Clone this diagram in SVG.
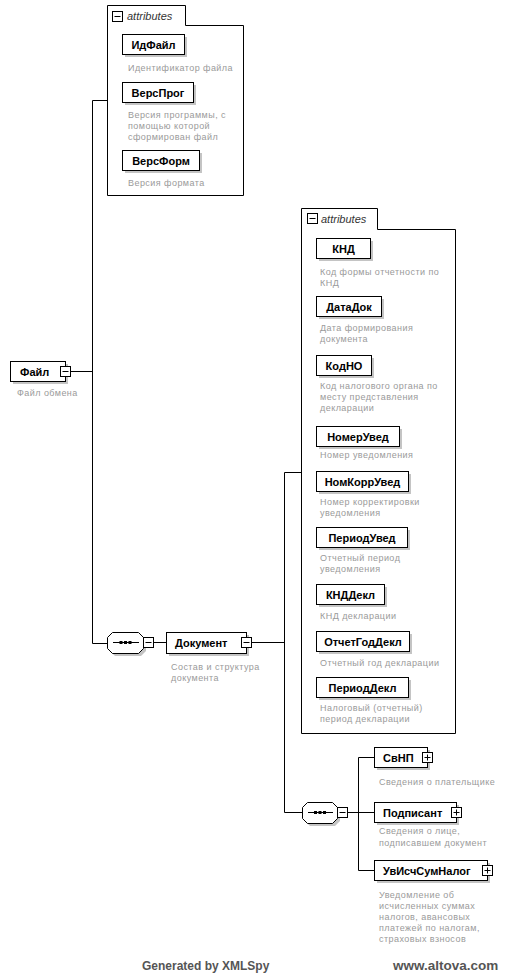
<svg xmlns="http://www.w3.org/2000/svg" width="506" height="976" viewBox="0 0 506 976">
<style>
.bg{fill:#fff}
.box{fill:#fff;stroke:#000;stroke-width:1}
.sh{fill:#c4c4c4}
.abox{fill:none;stroke:#000;stroke-width:1}
.btn{fill:#fff;stroke:#000;stroke-width:1}
.sym{stroke:#000;stroke-width:1;fill:none}
.con{stroke:#000;stroke-width:1;fill:none}
.lbl{font-family:"Liberation Sans",Arial,sans-serif;font-size:11px;font-weight:bold;fill:#000}
.desc{font-family:"Liberation Sans",Arial,sans-serif;font-size:9px;fill:#9a9a9a;letter-spacing:0.45px}
.att{font-family:"Liberation Sans",Arial,sans-serif;font-size:11px;font-style:italic;fill:#333}
.foot{font-family:"Liberation Sans",Arial,sans-serif;font-size:12px;font-weight:bold;fill:#555}
.www{font-size:13.5px}
.mid{text-anchor:middle}
</style>
<defs>
<g id="minus"><rect class="btn" x="0.5" y="0.5" width="10" height="10"/><path class="sym" d="M2.5,5.5 H8.5"/></g>
<g id="plus"><rect class="btn" x="0.5" y="0.5" width="10" height="10"/><path class="sym" d="M2.5,5.5 H8.5 M5.5,2.5 V8.5"/></g>
</defs>
<rect class="bg" x="0" y="0" width="506" height="976"/>

<g id="connectors">
<path class="con" d="M71,371.5 H92.5 M92.5,100.5 V643.5 M92.5,100.5 H107.5 M92.5,643.5 H107"/>
<path class="con" d="M154,642.5 H166.5 M252,642.5 H284.5 M284.5,472.5 V812.5 M284.5,472.5 H301.5 M284.5,812.5 H302"/>
<path class="con" d="M348,812.5 H358.5 M358.5,757.5 V870.5 M358.5,757.5 H374.5 M358.5,812.5 H374.5 M358.5,870.5 H374.5"/>
</g>

<g id="node-fajl">
<rect class="sh" x="13" y="364" width="55" height="20"/>
<rect class="box" x="10.5" y="361.5" width="55" height="20"/>
<text class="lbl" x="20" y="375.5">Файл</text>
<use href="#minus" x="60" y="366"/>
<text class="desc" x="17" y="396">Файл обмена</text>
</g>

<g id="attributes-fajl">
<path class="abox" d="M107.5,5.5 H185.5 V25.5 H243.5 V195.5 H107.5 Z"/>
<use href="#minus" x="112" y="11"/>
<text class="att" x="127" y="20">attributes</text>
</g>

<g id="node-idfajl">
<rect class="sh" x="125" y="37" width="62" height="20"/>
<rect class="box" x="122.5" y="34.5" width="62" height="20"/>
<text class="lbl mid" x="153.5" y="48.5">ИдФайл</text>
<text class="desc" x="128" y="71">Идентификатор файла</text>
</g>
<g id="node-versprog">
<rect class="sh" x="125" y="85" width="71" height="20"/>
<rect class="box" x="122.5" y="82.5" width="71" height="20"/>
<text class="lbl mid" x="158" y="96.5">ВерсПрог</text>
<text class="desc" x="128" y="118">Версия программы, с</text>
<text class="desc" x="128" y="129">помощью которой</text>
<text class="desc" x="128" y="140">сформирован файл</text>
</g>
<g id="node-versform">
<rect class="sh" x="125" y="153" width="77" height="20"/>
<rect class="box" x="122.5" y="150.5" width="77" height="20"/>
<text class="lbl mid" x="161" y="164.5">ВерсФорм</text>
<text class="desc" x="128" y="186">Версия формата</text>
</g>

<g id="seq-1">
<path class="sh" d="M115,635 H141 L146,640 V651 L141,656 H115 L110,651 V640 Z"/>
<path class="box" d="M112.5,632.5 H138.5 L143.5,637.5 V648.5 L138.5,653.5 H112.5 L107.5,648.5 V637.5 Z"/>
<path class="sym" d="M113,642.5 H139"/>
<rect x="119.5" y="641" width="3" height="3" fill="#000"/>
<rect x="124" y="641" width="3" height="3" fill="#000"/>
<rect x="128.5" y="641" width="3" height="3" fill="#000"/>
<use href="#minus" x="143" y="637"/>
</g>

<g id="node-dokument">
<rect class="sh" x="169" y="635" width="80" height="21"/>
<rect class="box" x="166.5" y="632.5" width="80" height="21"/>
<text class="lbl" x="175" y="647">Документ</text>
<use href="#minus" x="241" y="637"/>
<text class="desc" x="171" y="670">Состав и структура</text>
<text class="desc" x="171" y="681">документа</text>
</g>

<g id="attributes-dokument">
<path class="abox" d="M301.5,208.5 H377.5 V229.5 H455.5 V733.5 H301.5 Z"/>
<use href="#minus" x="307" y="213"/>
<text class="att" x="321" y="223">attributes</text>
</g>

<g id="node-knd">
<rect class="sh" x="319" y="241" width="54" height="20"/>
<rect class="box" x="316.5" y="238.5" width="54" height="20"/>
<text class="lbl mid" x="343.5" y="252.5">КНД</text>
<text class="desc" x="320" y="275">Код формы отчетности по</text>
<text class="desc" x="320" y="286">КНД</text>
</g>
<g id="node-datadok">
<rect class="sh" x="319" y="299" width="65" height="20"/>
<rect class="box" x="316.5" y="296.5" width="65" height="20"/>
<text class="lbl mid" x="349" y="310.5">ДатаДок</text>
<text class="desc" x="320" y="331">Дата формирования</text>
<text class="desc" x="320" y="342">документа</text>
</g>
<g id="node-kodno">
<rect class="sh" x="319" y="358" width="55" height="20"/>
<rect class="box" x="316.5" y="355.5" width="55" height="20"/>
<text class="lbl mid" x="344" y="369.5">КодНО</text>
<text class="desc" x="320" y="389">Код налогового органа по</text>
<text class="desc" x="320" y="400">месту представления</text>
<text class="desc" x="320" y="411">декларации</text>
</g>
<g id="node-nomeruved">
<rect class="sh" x="319" y="429" width="83" height="20"/>
<rect class="box" x="316.5" y="426.5" width="83" height="20"/>
<text class="lbl mid" x="358" y="440.5">НомерУвед</text>
<text class="desc" x="320" y="458">Номер уведомления</text>
</g>
<g id="node-nomkorruved">
<rect class="sh" x="319" y="474" width="92" height="20"/>
<rect class="box" x="316.5" y="471.5" width="92" height="20"/>
<text class="lbl mid" x="362.5" y="485.5">НомКоррУвед</text>
<text class="desc" x="320" y="505">Номер корректировки</text>
<text class="desc" x="320" y="516">уведомления</text>
</g>
<g id="node-perioduved">
<rect class="sh" x="319" y="530" width="91" height="20"/>
<rect class="box" x="316.5" y="527.5" width="91" height="20"/>
<text class="lbl mid" x="362" y="541.5">ПериодУвед</text>
<text class="desc" x="320" y="561">Отчетный период</text>
<text class="desc" x="320" y="572">уведомления</text>
</g>
<g id="node-knddekl">
<rect class="sh" x="319" y="587" width="68" height="20"/>
<rect class="box" x="316.5" y="584.5" width="68" height="20"/>
<text class="lbl mid" x="350.5" y="598.5">КНДДекл</text>
<text class="desc" x="320" y="619">КНД декларации</text>
</g>
<g id="node-otchetgoddekl">
<rect class="sh" x="319" y="634" width="93" height="20"/>
<rect class="box" x="316.5" y="631.5" width="93" height="20"/>
<text class="lbl mid" x="363" y="645.5">ОтчетГодДекл</text>
<text class="desc" x="320" y="666">Отчетный год декларации</text>
</g>
<g id="node-perioddekl">
<rect class="sh" x="319" y="680" width="92" height="20"/>
<rect class="box" x="316.5" y="677.5" width="92" height="20"/>
<text class="lbl mid" x="362.5" y="691.5">ПериодДекл</text>
<text class="desc" x="320" y="711">Налоговый (отчетный)</text>
<text class="desc" x="320" y="722">период декларации</text>
</g>

<g id="seq-2">
<path class="sh" d="M310,805 H335 L340,810 V821 L335,826 H310 L305,821 V810 Z"/>
<path class="box" d="M307.5,802.5 H332.5 L337.5,807.5 V818.5 L332.5,823.5 H307.5 L302.5,818.5 V807.5 Z"/>
<path class="sym" d="M308,812.5 H333"/>
<rect x="314" y="811" width="3" height="3" fill="#000"/>
<rect x="318.5" y="811" width="3" height="3" fill="#000"/>
<rect x="323" y="811" width="3" height="3" fill="#000"/>
<use href="#minus" x="337" y="807"/>
</g>

<g id="node-svnp">
<rect class="sh" x="377" y="750" width="53" height="20"/>
<rect class="box" x="374.5" y="747.5" width="53" height="20"/>
<text class="lbl" x="383" y="761.5">СвНП</text>
<use href="#plus" x="422" y="752"/>
<text class="desc" x="379" y="785">Сведения о плательщике</text>
</g>
<g id="node-podpisant">
<rect class="sh" x="377" y="805" width="82" height="20"/>
<rect class="box" x="374.5" y="802.5" width="82" height="20"/>
<text class="lbl" x="383" y="816.5">Подписант</text>
<use href="#plus" x="451" y="807"/>
<text class="desc" x="379" y="834">Сведения о лице,</text>
<text class="desc" x="379" y="846">подписавшем документ</text>
</g>
<g id="node-uvischsumnalog">
<rect class="sh" x="377" y="863" width="113" height="20"/>
<rect class="box" x="374.5" y="860.5" width="113" height="20"/>
<text class="lbl" x="383" y="874.5">УвИсчСумНалог</text>
<use href="#plus" x="482" y="865"/>
<text class="desc" x="379" y="898">Уведомление об</text>
<text class="desc" x="379" y="909">исчисленных суммах</text>
<text class="desc" x="379" y="920">налогов, авансовых</text>
<text class="desc" x="379" y="931">платежей по налогам,</text>
<text class="desc" x="379" y="942">страховых взносов</text>
</g>

<text class="foot" x="142" y="970">Generated by XMLSpy</text>
<text class="foot www" x="393" y="970">www.altova.com</text>
</svg>
